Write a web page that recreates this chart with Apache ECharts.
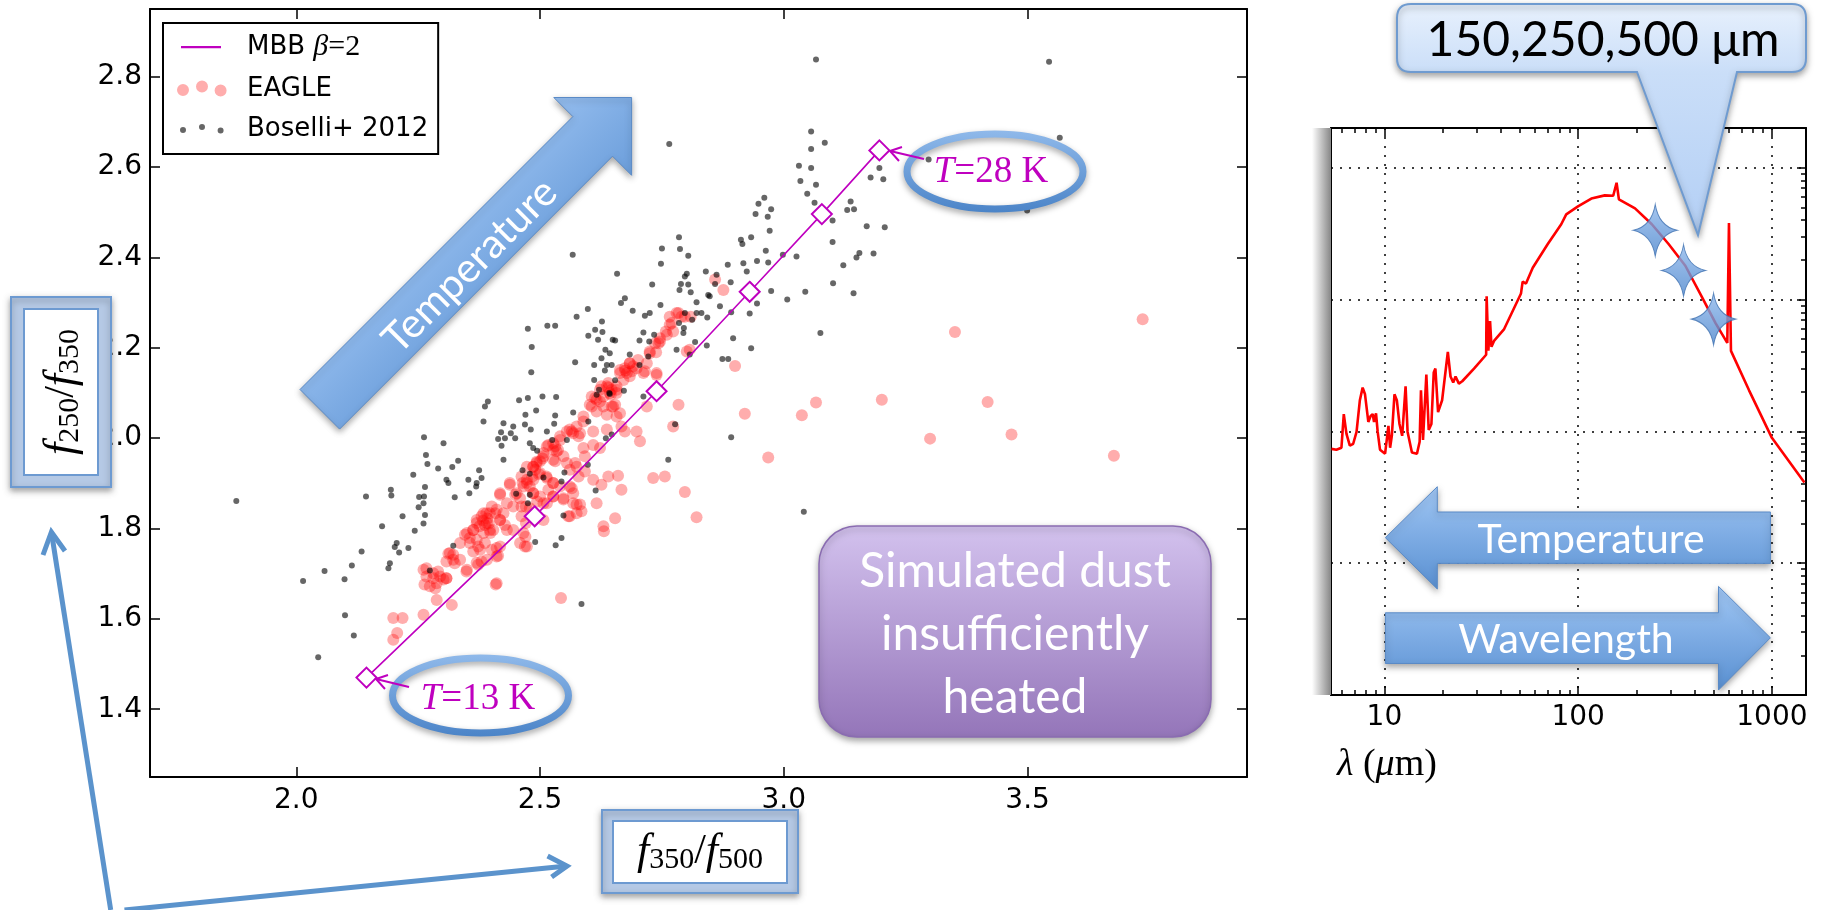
<!DOCTYPE html>
<html lang="en">
<head>
    <meta charset="UTF-8">
    <title>Dust colours</title>
    <script src="https://cdn.jsdelivr.net/npm/echarts@6/dist/echarts.min.js"></script>
    <style>
        html, body { margin: 0; padding: 0; background: #fff; }
    </style>
</head>
<body>
<div id="main" style="width: 1825px; height: 910px"></div>
<script type="text/javascript">
    // main panel: f350/f500 vs f250/f350
    var xTicks = [2.0, 2.5, 3.0, 3.5];
    var yTicks = [1.4, 1.6, 1.8, 2.0, 2.2, 2.4, 2.6, 2.8];

    // modified black body track, T = 13 ... 28 K
    var mbbX = [2.144, 2.489, 2.739, 2.930, 3.078, 3.196];
    var mbbY = [1.470, 1.827, 2.104, 2.324, 2.496, 2.637];

    // Boselli+ 2012 galaxies
    var boselli = [
        [3.066,2.838],[3.544,2.833],[3.056,2.679],[3.084,2.654],[3.056,2.640],[2.765,2.651],[3.566,2.665],[3.297,2.617],
        [3.031,2.603],[3.056,2.598],[3.034,2.569],[3.066,2.561],[3.048,2.541],[3.178,2.577],[3.204,2.573],[3.196,2.598],
        [2.960,2.532],[2.948,2.519],[2.974,2.507],[2.942,2.496],[2.967,2.490],[2.971,2.459],[3.063,2.521],[3.100,2.482],
        [3.137,2.524],[3.144,2.507],[3.130,2.505],[3.170,2.469],[3.207,2.467],[3.100,2.434],[2.933,2.445],[2.912,2.439],
        [2.915,2.430],[2.785,2.445],[2.750,2.420],[2.787,2.419],[3.499,2.504],[3.122,2.383],[3.149,2.400],[3.155,2.410],
        [3.184,2.409],[3.143,2.321],[3.101,2.343],[3.044,2.324],[3.075,2.233],[3.007,2.307],[2.974,2.326],[2.945,2.298],
        [2.933,2.199],[2.998,2.406],[3.026,2.402],[2.968,2.389],[2.963,2.415],[2.945,2.392],[3.041,1.837],[2.930,2.276],
        [1.877,1.861],
        [2.567,2.406],[2.748,2.386],[2.804,2.404],[2.885,2.384],[2.917,2.387],[2.924,2.369],[2.658,2.364],[2.801,2.364],
        [2.797,2.358],[2.840,2.369],[2.862,2.362],[2.859,2.341],[2.891,2.345],[2.730,2.340],[2.789,2.341],[2.804,2.340],
        [2.786,2.328],[2.809,2.323],[2.845,2.317],[2.848,2.314],[2.869,2.292],[2.892,2.279],[2.747,2.295],[2.674,2.310],
        [2.666,2.299],[2.690,2.282],[2.725,2.277],[2.715,2.271],[2.821,2.301],[2.821,2.277],[2.831,2.277],[2.843,2.267],
        [2.797,2.277],[2.785,2.255],[2.795,2.244],[2.794,2.233],[2.812,2.262],[2.575,2.269],[2.598,2.286],[2.627,2.258],
        [2.613,2.240],[2.628,2.235],[2.599,2.227],[2.619,2.218],[2.649,2.218],[2.654,2.216],[2.712,2.234],[2.734,2.229],
        [2.704,2.216],[2.724,2.214],[2.818,2.213],[2.842,2.205],[2.896,2.221],[2.780,2.196],[2.807,2.185],[2.634,2.196],
        [2.643,2.188],[2.626,2.177],[2.611,2.162],[2.637,2.162],[2.647,2.162],[2.722,2.181],[2.684,2.185],[2.704,2.162],
        [2.572,2.168],[2.611,2.129],[2.616,2.096],[2.633,2.150],[2.654,2.128],[2.621,2.107],[2.643,2.098],[2.672,2.105],
        [2.712,2.092],[2.874,2.175],[2.886,2.175],[2.475,2.242],[2.515,2.249],[2.531,2.249],[2.483,2.202],[2.482,2.146],
        [2.457,2.084],[2.475,2.089],[2.505,2.092],[2.533,2.091],[2.568,2.057],[2.599,2.037],[2.393,2.081],[2.387,2.070],
        [2.384,2.037],[2.425,2.033],[2.445,2.026],[2.469,2.030],[2.481,2.019],[2.470,2.052],[2.492,2.061],[2.531,2.050],
        [2.529,2.032],[2.514,2.015],[2.555,1.996],[2.525,1.996],[2.420,2.013],[2.414,1.998],[2.428,2.000],[2.440,2.011],
        [2.449,2.000],[2.421,1.983],[2.479,1.989],[2.486,1.978],[2.494,1.972],[2.425,1.952],[2.262,2.002],[2.302,1.989],
        [2.266,1.963],[2.269,1.943],[2.332,1.950],[2.320,1.936],[2.291,1.933],[2.375,1.929],[2.380,1.912],[2.370,1.901],
        [2.353,1.908],[2.369,1.893],[2.355,1.878],[2.308,1.908],[2.312,1.901],[2.240,1.919],[2.264,1.892],[2.194,1.886],
        [2.195,1.873],[2.143,1.871],[2.252,1.870],[2.262,1.871],[2.251,1.847],[2.261,1.856],[2.325,1.869],[2.264,1.830],
        [2.261,1.811],[2.218,1.827],[2.176,1.805],[2.243,1.795],[2.206,1.768],[2.211,1.747],[2.202,1.759],[2.230,1.757],
        [2.134,1.749],[2.192,1.723],[2.189,1.712],[2.114,1.718],[2.099,1.688],[2.058,1.706],[2.014,1.684],[2.100,1.608],
        [2.118,1.563],[2.045,1.515],[2.322,1.762],[2.274,1.707],[2.464,1.929],[2.479,1.921],[2.507,1.913],[2.550,1.924],
        [2.544,1.904],[2.451,1.877],[2.479,1.875],[2.475,1.856],[2.548,1.829],[2.598,1.941],[2.614,1.884],[2.635,2.000],
        [2.647,2.008],[2.777,2.031],[2.763,1.952],[2.892,2.002],[2.490,1.770],[2.532,1.763],[2.544,1.779],[2.585,1.633],
        [2.642,2.100]
    ];

    // EAGLE simulated galaxies
    var eagle = [
        [2.199,1.602],[2.218,1.602],[2.207,1.569],[2.199,1.554],[2.261,1.609],[2.319,1.631],[2.288,1.642],[2.285,1.668],
        [2.263,1.676],[2.267,1.712],[2.291,1.705],[2.302,1.687],[2.308,1.690],[2.281,1.690],[2.312,1.744],[2.322,1.742],
        [2.325,1.723],[2.308,1.727],[2.349,1.705],[2.373,1.720],[2.380,1.727],[2.363,1.749],[2.373,1.760],[2.387,1.768],
        [2.401,1.753],[2.411,1.757],[2.414,1.740],[2.409,1.676],[2.346,1.786],[2.356,1.779],[2.363,1.797],[2.370,1.812],
        [2.380,1.827],[2.390,1.834],[2.387,1.808],[2.397,1.797],[2.408,1.834],[2.418,1.819],[2.428,1.808],[2.425,1.834],
        [2.401,1.849],[2.418,1.875],[2.438,1.897],[2.449,1.875],[2.459,1.867],[2.464,1.901],[2.473,1.908],[2.479,1.893],
        [2.486,1.937],[2.493,1.945],[2.500,1.949],[2.507,1.967],[2.517,1.985],[2.527,1.974],[2.531,1.949],[2.513,1.915],
        [2.527,1.901],[2.517,1.886],[2.486,1.878],[2.494,1.860],[2.471,1.849],[2.479,1.845],[2.462,1.827],[2.471,1.812],
        [2.470,1.782],[2.469,1.760],[2.507,1.856],[2.527,1.871],[2.548,1.867],[2.565,1.889],[2.575,1.853],[2.582,1.853],
        [2.585,1.838],[2.558,1.827],[2.568,1.878],[2.592,1.926],[2.609,1.908],[2.626,1.897],[2.640,1.915],[2.660,1.917],
        [2.667,1.886],[2.616,1.856],[2.654,1.823],[2.630,1.805],[2.631,1.794],[2.592,1.960],[2.589,1.978],[2.609,1.985],
        [2.623,1.978],[2.637,2.019],[2.609,2.015],[2.582,2.011],[2.575,2.026],[2.589,2.037],[2.565,2.015],[2.555,2.015],
        [2.541,1.996],[2.531,1.982],[2.534,1.971],[2.548,1.960],[2.555,1.945],[2.575,1.937],[2.561,1.930],[2.698,2.015],
        [2.705,1.993],[2.667,2.026],[2.674,2.015],[2.657,2.048],[2.637,2.052],[2.616,2.059],[2.602,2.074],[2.613,2.089],
        [2.623,2.081],[2.647,2.070],[2.626,2.115],[2.640,2.122],[2.647,2.107],[2.657,2.100],[2.654,2.074],[2.719,2.070],
        [2.739,2.140],[2.715,2.148],[2.678,2.144],[2.664,2.144],[2.674,2.155],[2.684,2.166],[2.691,2.159],[2.725,2.192],
        [2.743,2.210],[2.746,2.221],[2.758,2.236],[2.766,2.251],[2.780,2.277],[2.790,2.269],[2.801,2.192],[2.784,2.074],
        [2.773,2.026],[2.732,1.912],[2.756,1.915],[2.797,1.881],[2.821,1.825],[2.900,2.160],[2.920,2.054],[2.859,2.351],
        [2.876,2.328],[2.809,2.269],[2.766,2.269],[2.688,2.148],[2.657,2.115],[2.606,2.092],[2.701,2.173],[2.719,2.166],
        [2.738,2.190],[2.543,1.646],[2.383,1.817],[2.392,1.822],[2.376,1.805],[2.490,1.930],[2.498,1.920],[2.484,1.915],
        [2.640,2.112],[2.645,2.096],[2.675,2.150],[2.398,1.790],[2.395,1.811],[2.505,1.955],
        [2.568,2.011],[2.579,2.004],[2.561,2.019],[2.541,2.004],[2.527,1.989],[2.514,1.982],[2.537,1.974],[2.527,1.952],
        [2.507,1.960],[2.493,1.948],[2.486,1.937],[2.473,1.937],[2.462,1.915],[2.473,1.901],[2.486,1.908],[2.500,1.923],
        [2.514,1.912],[2.527,1.901],[2.541,1.893],[2.561,1.893],[2.572,1.945],[2.579,1.915],[2.568,1.856],[2.575,1.834],
        [2.561,1.827],[2.548,1.864],[2.527,1.871],[2.514,1.856],[2.500,1.871],[2.486,1.878],[2.466,1.893],[2.452,1.878],
        [2.438,1.901],[2.418,1.878],[2.432,1.856],[2.445,1.849],[2.462,1.849],[2.411,1.842],[2.397,1.834],[2.384,1.834],
        [2.370,1.819],[2.391,1.812],[2.404,1.797],[2.384,1.790],[2.363,1.797],[2.350,1.790],[2.336,1.768],[2.356,1.768],
        [2.370,1.775],[2.377,1.753],[2.370,1.724],[2.391,1.731],[2.411,1.738],[2.418,1.760],[2.432,1.797],[2.418,1.819],
        [2.445,1.797],[2.466,1.790],[2.473,1.760],[2.315,1.746],[2.322,1.731],[2.336,1.731],[2.350,1.709],[2.295,1.694],
        [2.281,1.701],[2.267,1.694],[2.261,1.709],[2.288,1.679],[2.308,1.690],[2.274,1.672],[2.411,1.679],[2.459,1.768],
        [2.507,1.819],
        [2.784,2.277],[2.797,2.269],[2.770,2.255],[2.773,2.236],[2.760,2.229],[2.746,2.214],[2.736,2.210],[2.725,2.188],
        [2.807,2.196],[2.739,2.144],[2.712,2.144],[2.698,2.155],[2.684,2.166],[2.664,2.151],[2.671,2.129],[2.684,2.137],
        [2.657,2.107],[2.637,2.115],[2.643,2.100],[2.630,2.092],[2.623,2.107],[2.616,2.085],[2.606,2.070],[2.630,2.070],
        [2.650,2.070],[2.664,2.055],[2.589,2.048],
        [3.736,2.263],[3.351,2.235],[3.201,2.085],[3.418,2.080],[3.066,2.079],[3.037,2.051],[3.300,1.999],[3.467,2.008],
        [3.677,1.961],[2.968,1.957]
    ];

    // right panel: SED, wavelength (micron) and flux (arbitrary units)
    var sedLambda = [5.33, 5.65, 6.00, 6.17, 6.37, 6.63, 6.90, 7.18, 7.47, 7.72, 7.94, 8.26, 8.49, 8.70, 8.84, 9.05,
        9.23, 9.49, 10.08, 10.28, 10.49, 10.70, 10.92, 11.27, 11.59, 11.96, 12.35, 12.86, 13.17, 13.87, 14.72, 15.20,
        15.44, 15.82, 16.46, 16.93, 17.48, 17.97, 18.33, 18.92, 19.85, 21.25, 21.94, 22.65, 23.29, 24.23, 25.22, 29.0,
        33.5, 33.7, 34.4, 35.1, 35.7, 36.8, 41.5, 50.7, 51.7, 53.8, 58.3, 69.7, 81.8, 86.8, 88.5, 99.8, 117.0, 137.3,
        151.7, 157.9, 162.3, 196.6, 240.0, 292.9, 357.5, 436.4, 511.9, 588.6, 600.4, 614.9, 762.4, 1000, 1472];
    var sedFlux = [0.00736, 0.00726, 0.00751, 0.01352, 0.00957, 0.00778, 0.00805, 0.00990, 0.01722, 0.02148, 0.01910,
        0.01178, 0.01306, 0.01352, 0.01178, 0.01371, 0.00990, 0.00726, 0.00677, 0.00701, 0.01099, 0.00751, 0.00925,
        0.01910, 0.01722, 0.01137, 0.00925, 0.02193, 0.00990, 0.00691, 0.00677, 0.00833, 0.02047, 0.00862, 0.02698,
        0.01025, 0.01137, 0.02792, 0.02992, 0.01400, 0.01722, 0.03997, 0.02606, 0.02349, 0.02606, 0.02301, 0.02399,
        0.02992, 0.03811, 0.1059, 0.04083, 0.06855, 0.04375, 0.04853, 0.05971, 0.1112, 0.1368, 0.1321, 0.1741, 0.2636,
        0.3724, 0.4425, 0.4277, 0.5081, 0.5834, 0.6166, 0.6124, 0.7691, 0.5754, 0.4909, 0.3724, 0.2636, 0.1803, 0.1037,
        0.06622, 0.0469, 0.3802, 0.0408, 0.02047, 0.00893, 0.00409];

    var bandLambda = [250, 350, 500];
    var bandFlux = [0.335, 0.166, 0.071];

    var sedMajorX = [10, 100, 1000];
    var sedMinorX = [6, 7, 8, 9, 20, 30, 40, 50, 60, 70, 80, 90, 200, 300, 400, 500, 600, 700, 800, 900];
    var sedMajorY = [0.0001, 0.001, 0.01, 0.1, 1];
    var sedMinorY = [0.0002, 0.0003, 0.0004, 0.0005, 0.0006, 0.0007, 0.0008, 0.0009,
        0.002, 0.003, 0.004, 0.005, 0.006, 0.007, 0.008, 0.009,
        0.02, 0.03, 0.04, 0.05, 0.06, 0.07, 0.08, 0.09,
        0.2, 0.3, 0.4, 0.5, 0.6, 0.7, 0.8, 0.9];

    var mbb = mbbX.map(function (x, i) { return [x, mbbY[i]]; });
    var sed = sedLambda.map(function (l, i) { return [l, sedFlux[i]]; });
    var bands = bandLambda.map(function (l, i) { return [l, bandFlux[i]]; });

    var SANS = 'DejaVu Sans';
    var SERIF = 'Liberation Serif';
    var SLIDE = 'Lato';
    var MAG = '#bf00bf';

    // rounded box with a pointer (callout shape)
    var Callout = echarts.graphic.extendShape({
        shape: { x: 0, y: 0, w: 0, h: 0, r: 0, px0: 0, px1: 0, tx: 0, ty: 0 },
        buildPath: function (ctx, s) {
            var x = s.x, y = s.y, w = s.w, h = s.h, r = s.r;
            ctx.moveTo(x + r, y);
            ctx.lineTo(x + w - r, y);
            ctx.quadraticCurveTo(x + w, y, x + w, y + r);
            ctx.lineTo(x + w, y + h - r);
            ctx.quadraticCurveTo(x + w, y + h, x + w - r, y + h);
            ctx.lineTo(s.px1, y + h);
            ctx.lineTo(s.tx, s.ty);
            ctx.lineTo(s.px0, y + h);
            ctx.lineTo(x + r, y + h);
            ctx.quadraticCurveTo(x, y + h, x, y + h - r);
            ctx.lineTo(x, y + r);
            ctx.quadraticCurveTo(x, y, x + r, y);
            ctx.closePath();
        }
    });
    echarts.graphic.registerShape('callout', Callout);

    function frameAxis(extra) {
        var base = {
            axisLine: { show: true, onZero: false, lineStyle: { color: '#000', width: 2 } },
            splitLine: { show: false },
            axisLabel: { show: false }
        };
        return Object.assign(base, extra);
    }
    var tickLine = { color: '#000', width: 1.5 };

    var myChart = echarts.init(document.getElementById('main'), null, { renderer: 'canvas' });

    var blueV = { type: 'linear', x: 0, y: 0, x2: 0, y2: 1,
        colorStops: [{ offset: 0, color: '#a0c6f4' }, { offset: 1, color: '#5990d2' }] };
    var blueD = { type: 'linear', x: 0, y: 0, x2: 1, y2: 1,
        colorStops: [{ offset: 0.3, color: '#a3c8f5' }, { offset: 0.7, color: '#5d93d4' }] };
    var ringStroke = { type: 'linear', x: 0, y: 0, x2: 0, y2: 1,
        colorStops: [{ offset: 0, color: '#8fb9ea' }, { offset: 1, color: '#4b84c8' }] };
    var shadow = { shadowBlur: 6, shadowOffsetY: 3, shadowColor: 'rgba(0,0,0,0.35)' };
    var labelRich = {
        f: { fontFamily: SERIF, fontStyle: 'italic', fontSize: 44 },
        s: { fontFamily: SERIF, fontSize: 30, padding: [16, 0, 0, 0] },
        n: { fontFamily: SERIF, fontSize: 42 }
    };

    var deco = [
        // big diagonal arrow
        { type: 'polygon', z: 50, shape: { points: [[631.6, 97.5], [631.6, 175.3], [612.5, 156.2], [339.6, 429.1], [300, 389.5], [572.9, 116.6], [553.8, 97.5]] },
          style: Object.assign({ fill: blueD, stroke: '#5a8ac6', lineWidth: 1 }, shadow) },
        { type: 'text', z: 51, x: 470, y: 266, rotation: Math.PI / 4,
          style: { text: 'Temperature', fill: '#fff', fontFamily: SLIDE, fontSize: 41, align: 'center', verticalAlign: 'middle' } },

        // T = 28 K
        { type: 'ellipse', z: 50, shape: { cx: 995, cy: 171.5, rx: 88, ry: 37.5 },
          style: Object.assign({ fill: 'none', stroke: ringStroke, lineWidth: 7 }, shadow) },
        { type: 'text', z: 51, x: 991, y: 172,
          style: { text: '{i|T}{n|=28 K}', fill: MAG, align: 'center', verticalAlign: 'middle',
                   rich: { i: { fontFamily: SERIF, fontStyle: 'italic', fontSize: 37 }, n: { fontFamily: SERIF, fontSize: 37 } } } },
        { type: 'polyline', z: 51, shape: { points: [[924, 159], [890, 151]] }, style: { stroke: MAG, lineWidth: 2, fill: 'none' } },
        { type: 'polyline', z: 51, shape: { points: [[899, 161], [890, 151], [902, 147]] }, style: { stroke: MAG, lineWidth: 2, fill: 'none' } },

        // T = 13 K
        { type: 'ellipse', z: 50, shape: { cx: 480.5, cy: 695.5, rx: 88, ry: 37.5 },
          style: Object.assign({ fill: 'none', stroke: ringStroke, lineWidth: 7 }, shadow) },
        { type: 'text', z: 51, x: 478, y: 699,
          style: { text: '{i|T}{n|=13 K}', fill: MAG, align: 'center', verticalAlign: 'middle',
                   rich: { i: { fontFamily: SERIF, fontStyle: 'italic', fontSize: 37 }, n: { fontFamily: SERIF, fontSize: 37 } } } },
        { type: 'polyline', z: 51, shape: { points: [[409, 687], [376, 679]] }, style: { stroke: MAG, lineWidth: 2, fill: 'none' } },
        { type: 'polyline', z: 51, shape: { points: [[385, 689], [376, 679], [388, 675]] }, style: { stroke: MAG, lineWidth: 2, fill: 'none' } },

        // purple note
        { type: 'rect', z: 50, shape: { x: 819, y: 526, width: 392, height: 211, r: 38 },
          style: Object.assign({ fill: { type: 'linear', x: 0, y: 0, x2: 0, y2: 1,
              colorStops: [{ offset: 0, color: '#d3c2ee' }, { offset: 1, color: '#9475b9' }] },
              stroke: '#8a6cb1', lineWidth: 1.5 }, shadow) },
        { type: 'text', z: 51, x: 1015, y: 635,
          style: { text: 'Simulated dust\ninsufficiently\nheated', fill: '#fff', fontFamily: SLIDE, fontSize: 48,
                   lineHeight: 63, align: 'center', verticalAlign: 'middle' } },

        // y label box
        { type: 'rect', z: 50, shape: { x: 11, y: 297, width: 100, height: 190 },
          style: Object.assign({ fill: '#b5c9e5', stroke: '#6d9ad1', lineWidth: 2 }, shadow) },
        { type: 'rect', z: 51, shape: { x: 24, y: 309, width: 74, height: 166 },
          style: { fill: '#fff', stroke: '#6d9ad1', lineWidth: 2 } },
        { type: 'text', z: 52, x: 62, y: 392, rotation: Math.PI / 2,
          style: { text: '{f|f}{s|250}{n|/}{f|f}{s|350}', fill: '#000', align: 'center', verticalAlign: 'middle', rich: labelRich } },

        // x label box
        { type: 'rect', z: 50, shape: { x: 602, y: 810, width: 196, height: 83 },
          style: Object.assign({ fill: '#b5c9e5', stroke: '#6d9ad1', lineWidth: 2 }, shadow) },
        { type: 'rect', z: 51, shape: { x: 613, y: 821, width: 174, height: 62 },
          style: { fill: '#fff', stroke: '#6d9ad1', lineWidth: 2 } },
        { type: 'text', z: 52, x: 700, y: 852,
          style: { text: '{f|f}{s|350}{n|/}{f|f}{s|500}', fill: '#000', align: 'center', verticalAlign: 'middle', rich: labelRich } },

        // pointer arrows to the axis labels
        { type: 'polyline', z: 50, shape: { points: [[110.7, 910], [51.4, 532]] }, style: { stroke: '#5b93cc', lineWidth: 5, fill: 'none' } },
        { type: 'polyline', z: 50, shape: { points: [[43, 555], [51.4, 532], [65, 551]] }, style: { stroke: '#5b93cc', lineWidth: 5, fill: 'none', lineJoin: 'miter' } },
        { type: 'polyline', z: 50, shape: { points: [[124.5, 910], [567, 866]] }, style: { stroke: '#5b93cc', lineWidth: 5, fill: 'none' } },
        { type: 'polyline', z: 50, shape: { points: [[547.6, 856], [567, 866], [551.6, 877]] }, style: { stroke: '#5b93cc', lineWidth: 5, fill: 'none', lineJoin: 'miter' } },

        // right panel: grey edge
        { type: 'rect', z: 1, shape: { x: 1312, y: 128, width: 19, height: 567 },
          style: { fill: { type: 'linear', x: 0, y: 0, x2: 1, y2: 0,
              colorStops: [{ offset: 0, color: '#ffffff' }, { offset: 1, color: '#868686' }] } } },

        // temperature / wavelength arrows
        { type: 'polygon', z: 50, shape: { points: [[1385.4, 537.7], [1437.3, 486.7], [1437.3, 512], [1770.4, 512], [1770.4, 563.4], [1437.3, 563.4], [1437.3, 589]] },
          style: Object.assign({ fill: blueV, stroke: '#5a8ac6', lineWidth: 1 }, shadow) },
        { type: 'text', z: 51, x: 1591, y: 540,
          style: { text: 'Temperature', fill: '#fff', fontFamily: SLIDE, fontSize: 41, align: 'center', verticalAlign: 'middle' } },
        { type: 'polygon', z: 50, shape: { points: [[1385.4, 612.8], [1718.5, 612.8], [1718.5, 586.4], [1770.4, 637.8], [1718.5, 690], [1718.5, 663.5], [1385.4, 663.5]] },
          style: Object.assign({ fill: blueV, stroke: '#5a8ac6', lineWidth: 1 }, shadow) },
        { type: 'text', z: 51, x: 1566, y: 640,
          style: { text: 'Wavelength', fill: '#fff', fontFamily: SLIDE, fontSize: 41, align: 'center', verticalAlign: 'middle' } },

        // callout for the bands
        { type: 'callout', z: 60,
          shape: { x: 1397, y: 4, w: 409, h: 68, r: 14, px0: 1637, px1: 1737, tx: 1698, ty: 235 },
          style: Object.assign({ fill: { type: 'linear', x: 0, y: 0, x2: 0, y2: 1,
              colorStops: [{ offset: 0, color: '#e8f1fd' }, { offset: 0.3, color: '#cadef8' }, { offset: 1, color: '#b3cff5' }] },
              stroke: '#6f9bd0', lineWidth: 2 }, shadow) },
        { type: 'text', z: 61, x: 1603, y: 41,
          style: { text: '150,250,500 μm', fill: '#000', fontFamily: SLIDE, fontSize: 48, align: 'center', verticalAlign: 'middle' } },

        // SED x title
        { type: 'text', z: 51, x: 1337, y: 765,
          style: { text: '{i|λ} ({i|μ}m)', fill: '#000', align: 'left', verticalAlign: 'middle',
                   rich: { i: { fontFamily: SERIF, fontStyle: 'italic', fontSize: 38 } },
                   fontFamily: SERIF, fontSize: 38 } }
    ];

    var dotsBig = 'path://M0,-2h0.01v0.01h-0.01z M65,16h-0.01v-0.01h0.01z ' +
        'M0,7.9a6,6 0 1,0 12,0a6,6 0 1,0 -12,0z M19,4.5a6,6 0 1,0 12,0a6,6 0 1,0 -12,0z M37.6,8.5a6,6 0 1,0 12,0a6,6 0 1,0 -12,0z';
    var dotsSmall = 'path://M0,-2h0.01v0.01h-0.01z M65,16h-0.01v-0.01h0.01z ' +
        'M3,7.9a3,3 0 1,0 6,0a3,3 0 1,0 -6,0z M22,5a3,3 0 1,0 6,0a3,3 0 1,0 -6,0z M40.6,8.5a3,3 0 1,0 6,0a3,3 0 1,0 -6,0z';
    var lineIcon = 'path://M0,-2h0.01v0.01h-0.01z M65,16h-0.01v-0.01h0.01z M4,6h40v2.2h-40z';
    var star = 'path://M50,0 Q58,42 100,50 Q58,58 50,100 Q42,58 0,50 Q42,42 50,0 Z';

    option = {
        animation: false,
        backgroundColor: '#fff',
        grid: [
            { left: 150, top: 9, width: 1097, height: 768 },
            { left: 1331, top: 128, width: 475, height: 567 }
        ],
        legend: {
            left: 163, top: 23, orient: 'vertical',
            selectedMode: false,
            data: [
                { name: 'MBB', icon: lineIcon },
                { name: 'EAGLE', icon: dotsBig },
                { name: 'Boselli+ 2012', icon: dotsSmall }
            ],
            itemWidth: 65, itemHeight: 18, itemGap: 14,
            padding: [9, 10, 12, 14],
            borderColor: '#000', borderWidth: 2, backgroundColor: '#fff',
            textStyle: {
                fontFamily: SANS, fontSize: 26, color: '#000',
                rich: {
                    a: { fontFamily: SANS, fontSize: 26, color: '#000' },
                    b: { fontFamily: SERIF, fontStyle: 'italic', fontSize: 30, color: '#000' },
                    c: { fontFamily: SERIF, fontSize: 30, color: '#000' }
                }
            },
            formatter: function (name) {
                return name === 'MBB' ? '{a|MBB }{b|β}{c|=2}' : name;
            }
        },
        xAxis: [
            frameAxis({ gridIndex: 0, type: 'value', min: 1.7, max: 3.95, position: 'bottom',
                axisTick: { inside: true, length: 10, customValues: xTicks, lineStyle: tickLine },
                axisLabel: { show: true, customValues: xTicks, margin: 10, color: '#000', fontFamily: SANS, fontSize: 28,
                    formatter: function (v) { return v.toFixed(1); } } }),
            frameAxis({ gridIndex: 0, type: 'value', min: 1.7, max: 3.95, position: 'top',
                axisTick: { inside: true, length: 10, customValues: xTicks, lineStyle: tickLine } }),
            frameAxis({ gridIndex: 1, type: 'log', logBase: 10, min: 5.3, max: 1500, position: 'bottom',
                axisTick: { inside: true, length: 9, customValues: sedMajorX, lineStyle: tickLine },
                axisLabel: { show: true, customValues: sedMajorX, margin: 9, color: '#000', fontFamily: SANS, fontSize: 28,
                    formatter: function (v) { return String(Math.round(v)); } },
                splitLine: { show: true, lineStyle: { color: '#000', width: 1.5, type: [2, 7] } } }),
            frameAxis({ gridIndex: 1, type: 'log', logBase: 10, min: 5.3, max: 1500, position: 'bottom',
                axisLine: { show: false },
                axisTick: { inside: true, length: 5, customValues: sedMinorX, lineStyle: tickLine } }),
            frameAxis({ gridIndex: 1, type: 'log', logBase: 10, min: 5.3, max: 1500, position: 'top',
                axisTick: { inside: true, length: 9, customValues: sedMajorX, lineStyle: tickLine } }),
            frameAxis({ gridIndex: 1, type: 'log', logBase: 10, min: 5.3, max: 1500, position: 'top',
                axisLine: { show: false },
                axisTick: { inside: true, length: 5, customValues: sedMinorX, lineStyle: tickLine } })
        ],
        yAxis: [
            frameAxis({ gridIndex: 0, type: 'value', min: 1.25, max: 2.95, position: 'left',
                axisTick: { inside: true, length: 10, customValues: yTicks, lineStyle: tickLine },
                axisLabel: { show: true, customValues: yTicks, margin: 8, color: '#000', fontFamily: SANS, fontSize: 28,
                    formatter: function (v) { return v.toFixed(1); } } }),
            frameAxis({ gridIndex: 0, type: 'value', min: 1.25, max: 2.95, position: 'right',
                axisTick: { inside: true, length: 10, customValues: yTicks, lineStyle: tickLine } }),
            frameAxis({ gridIndex: 1, type: 'log', logBase: 10, min: 0.0001, max: 2, position: 'left',
                axisTick: { show: false, customValues: sedMajorY },
                splitLine: { show: true, lineStyle: { color: '#000', width: 1.5, type: [2, 7] } } }),
            frameAxis({ gridIndex: 1, type: 'log', logBase: 10, min: 0.0001, max: 2, position: 'right',
                axisTick: { inside: true, length: 9, customValues: sedMajorY, lineStyle: tickLine } }),
            frameAxis({ gridIndex: 1, type: 'log', logBase: 10, min: 0.0001, max: 2, position: 'right',
                axisLine: { show: false },
                axisTick: { inside: true, length: 5, customValues: sedMinorY, lineStyle: tickLine } })
        ],
        series: [
            {
                name: 'EAGLE', type: 'scatter', xAxisIndex: 0, yAxisIndex: 0, z: 2,
                data: eagle, symbolSize: 12,
                itemStyle: { color: 'rgba(255,0,0,0.4)' }
            },
            {
                name: 'Boselli+ 2012', type: 'scatter', xAxisIndex: 0, yAxisIndex: 0, z: 3,
                data: boselli, symbolSize: 6,
                itemStyle: { color: 'rgba(0,0,0,0.75)' }
            },
            {
                name: 'MBB', type: 'line', xAxisIndex: 0, yAxisIndex: 0, z: 4,
                data: mbb, symbol: 'emptyDiamond', symbolSize: 20,
                color: MAG,
                lineStyle: { color: MAG, width: 1.6 },
                itemStyle: { color: MAG, borderWidth: 2 }
            },
            {
                name: 'SED', type: 'line', xAxisIndex: 2, yAxisIndex: 2, z: 3,
                data: sed, showSymbol: false, symbol: 'none',
                lineStyle: { color: '#ff0000', width: 2.6 }
            },
            {
                name: 'bands', type: 'scatter', xAxisIndex: 2, yAxisIndex: 2, z: 5,
                data: bands, symbol: star, symbolSize: [44, 52],
                itemStyle: { color: { type: 'linear', x: 0, y: 0, x2: 0, y2: 1,
                    colorStops: [{ offset: 0, color: '#8fb8ec' }, { offset: 1, color: '#4b85cc' }] },
                    borderColor: '#3f70b0', borderWidth: 1 }
            }
        ],
        graphic: { elements: deco }
    };

    myChart.setOption(option);
</script>
</body>
</html>
